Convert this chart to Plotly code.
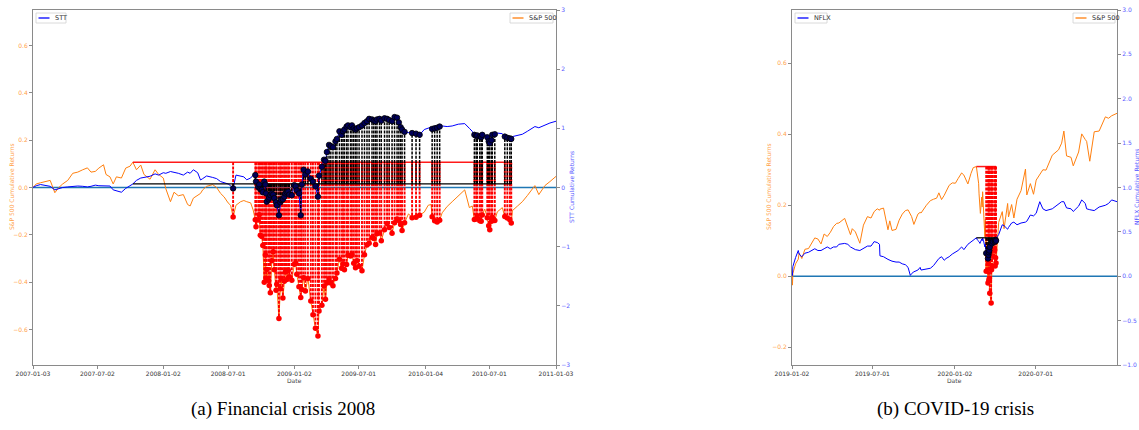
import numpy as np
import plotly.graph_objects as go

# ---------------- data: (a) Financial crisis 2008 ----------------
LEFT_DATES = [
    "2007-01-03", "2007-01-12", "2007-01-24", "2007-02-07", "2007-02-20", "2007-03-05", "2007-03-16", "2007-03-27", "2007-04-10", "2007-04-24",
    "2007-05-08", "2007-05-22", "2007-06-04", "2007-06-14", "2007-06-26", "2007-07-06", "2007-07-19", "2007-07-26", "2007-08-06", "2007-08-15",
    "2007-08-24", "2007-09-07", "2007-09-19", "2007-10-01", "2007-10-09", "2007-10-19", "2007-10-31", "2007-11-09", "2007-11-26", "2007-12-10",
    "2007-12-20", "2008-01-02", "2008-01-09", "2008-01-22", "2008-02-01", "2008-02-13", "2008-02-27", "2008-03-10", "2008-03-17", "2008-03-26",
    "2008-04-07", "2008-04-15", "2008-04-21", "2008-05-02", "2008-05-19", "2008-05-30", "2008-06-10", "2008-06-20", "2008-07-01", "2008-07-08",
    "2008-07-15", "2008-07-23", "2008-08-05", "2008-08-14", "2008-08-22", "2008-09-02", "2008-09-09",
    "2008-09-15", "2008-09-17", "2008-09-23", "2008-09-26", "2008-09-29", "2008-10-03", "2008-10-06", "2008-10-10", "2008-10-13", "2008-10-15",
    "2008-10-17", "2008-10-22", "2008-10-24", "2008-10-27", "2008-10-31", "2008-11-04", "2008-11-07", "2008-11-12", "2008-11-14", "2008-11-20",
    "2008-11-24", "2008-11-26", "2008-12-01", "2008-12-05", "2008-12-08", "2008-12-12", "2008-12-16", "2008-12-19", "2008-12-26", "2009-01-02",
    "2009-01-06", "2009-01-09", "2009-01-15", "2009-01-20", "2009-01-23", "2009-01-28", "2009-02-02", "2009-02-09", "2009-02-17", "2009-02-23",
    "2009-03-02", "2009-03-09", "2009-03-12", "2009-03-20", "2009-03-26", "2009-03-30", "2009-04-03", "2009-04-09", "2009-04-14", "2009-04-20",
    "2009-04-27", "2009-05-01", "2009-05-08", "2009-05-14", "2009-05-18", "2009-05-22", "2009-05-28", "2009-06-01", "2009-06-08", "2009-06-12",
    "2009-06-17", "2009-06-22", "2009-06-26", "2009-07-02", "2009-07-10", "2009-07-17", "2009-07-24", "2009-07-30", "2009-08-07", "2009-08-12",
    "2009-08-17", "2009-08-21", "2009-08-28", "2009-09-02", "2009-09-11", "2009-09-18", "2009-09-24", "2009-10-02", "2009-10-09", "2009-10-16",
    "2009-10-21", "2009-10-26", "2009-10-30", "2009-11-06", "2009-11-17", "2009-11-27", "2009-12-08", "2009-12-18", "2009-12-31", "2010-01-11",
    "2010-01-19", "2010-01-22", "2010-01-29", "2010-02-05", "2010-02-12", "2010-02-19", "2010-03-05", "2010-03-19", "2010-04-05", "2010-04-23",
    "2010-05-06", "2010-05-14", "2010-05-20", "2010-05-25", "2010-05-28", "2010-06-04", "2010-06-08", "2010-06-11", "2010-06-18", "2010-06-25",
    "2010-06-29", "2010-07-02", "2010-07-07", "2010-07-09", "2010-07-16", "2010-07-23", "2010-08-06", "2010-08-13", "2010-08-20", "2010-08-27",
    "2010-08-31", "2010-09-03", "2010-09-17", "2010-10-01", "2010-10-15", "2010-11-05", "2010-11-16", "2010-12-03", "2010-12-17", "2011-01-03",
]
LEFT_SP500 = [
    0.000, 0.015, 0.020, 0.025, 0.030, -0.022, 0.000, 0.015, 0.030, 0.060,
    0.065, 0.075, 0.083, 0.065, 0.068, 0.082, 0.096, 0.055, 0.045, 0.015,
    0.045, 0.040, 0.082, 0.090, 0.107, 0.075, 0.095, 0.055, 0.035, 0.075,
    0.055, 0.040, -0.005, -0.060, -0.020, -0.035, -0.030, -0.072, -0.078, -0.045,
    -0.035, -0.025, -0.010, 0.005, 0.012, 0.000, -0.025, -0.040, -0.065, -0.075,
    -0.125, -0.075, -0.060, -0.055, -0.060, -0.065, -0.095,
    -0.136, -0.166, -0.137, -0.115, -0.202, -0.207, -0.245, -0.400, -0.285, -0.383,
    -0.346, -0.393, -0.414, -0.445, -0.310, -0.272, -0.348, -0.434, -0.409, -0.554,
    -0.428, -0.385, -0.467, -0.396, -0.357, -0.389, -0.350, -0.377, -0.392, -0.324,
    -0.320, -0.367, -0.419, -0.465, -0.431, -0.381, -0.437, -0.384, -0.480, -0.538,
    -0.595, -0.627, -0.522, -0.498, -0.416, -0.472, -0.404, -0.387, -0.404, -0.415,
    -0.384, -0.361, -0.303, -0.341, -0.323, -0.348, -0.325, -0.286, -0.289, -0.282,
    -0.320, -0.339, -0.309, -0.333, -0.352, -0.284, -0.243, -0.236, -0.211, -0.216,
    -0.241, -0.195, -0.192, -0.225, -0.178, -0.152, -0.169, -0.193, -0.149, -0.133,
    -0.139, -0.156, -0.182, -0.149, -0.111, -0.128, -0.126, -0.117, -0.104, -0.075,
    -0.072, -0.124, -0.140, -0.146, -0.138, -0.107, -0.080, -0.060, -0.036, -0.010,
    -0.085, -0.078, -0.135, -0.133, -0.119, -0.141, -0.143, -0.116, -0.091, -0.128,
    -0.162, -0.179, -0.143, -0.126, -0.139, -0.103, -0.085, -0.123, -0.129, -0.136,
    -0.150, -0.098, -0.079, -0.060, -0.034, 0.008, -0.030, 0.008, 0.025, 0.047,
]
LEFT_STT = [
    0.00, 0.03, 0.05, 0.03, 0.02, -0.04, -0.015, 0.00, 0.01, 0.02,
    0.025, 0.02, 0.01, 0.02, 0.04, 0.03, 0.03, 0.025, 0.025, -0.04,
    -0.06, -0.08, -0.015, 0.03, 0.06, 0.12, 0.16, 0.17, 0.19, 0.23,
    0.21, 0.25, 0.24, 0.27, 0.26, 0.24, 0.21, 0.26, 0.24, 0.30,
    0.25, 0.127, 0.15, 0.195, 0.17, 0.15, 0.10, 0.08, 0.06, 0.03,
    -0.015, 0.21, 0.19, 0.18, 0.13, 0.16, 0.21,
    0.21, 0.10, 0.01, 0.05, -0.03, -0.04, -0.08, 0.10, 0.05, -0.10,
    -0.24, -0.20, -0.17, -0.13, -0.10, -0.12, -0.18, -0.25, -0.30, -0.47,
    -0.25, -0.21, -0.20, -0.155, -0.10, -0.08, -0.07, -0.12, -0.13, 0.04,
    0.02, -0.05, -0.10, -0.47, 0.05, 0.30, 0.22, 0.27, 0.15, 0.10,
    0.02, -0.155, 0.20, 0.35, 0.47, 0.45, 0.60, 0.72, 0.70, 0.68,
    0.78, 0.82, 0.95, 0.89, 0.95, 0.98, 1.03, 1.05, 1.02, 1.05,
    1.00, 0.98, 1.00, 1.02, 1.05, 1.09, 1.12, 1.16, 1.15, 1.13,
    1.12, 1.15, 1.16, 1.13, 1.17, 1.16, 1.14, 1.12, 1.19, 1.18,
    1.10, 1.02, 0.98, 0.94, 0.93, 0.92, 0.91, 0.89, 0.98, 1.00,
    1.02, 0.99, 1.00, 1.01, 1.03, 1.04, 1.03, 1.04, 1.07, 1.08,
    1.00, 0.95, 0.89, 0.87, 0.88, 0.86, 0.85, 0.89, 0.90, 0.85,
    0.78, 0.75, 0.80, 0.89, 0.90, 0.92, 0.91, 0.86, 0.84, 0.83,
    0.82, 0.86, 0.88, 0.90, 0.95, 1.03, 1.01, 1.06, 1.09, 1.12,
]

# ---------------- data: (b) COVID-19 crisis ----------------
RIGHT_DATES = [
    "2019-01-02", "2019-01-03", "2019-01-04", "2019-01-08", "2019-01-10", "2019-01-16", "2019-01-18", "2019-01-24", "2019-01-31", "2019-02-08",
    "2019-02-22", "2019-03-01", "2019-03-08", "2019-03-15", "2019-03-22", "2019-03-29", "2019-04-05", "2019-04-12", "2019-04-17", "2019-04-30",
    "2019-05-07", "2019-05-13", "2019-05-17", "2019-05-24", "2019-06-03", "2019-06-11", "2019-06-20", "2019-06-28", "2019-07-05", "2019-07-12",
    "2019-07-17", "2019-07-18", "2019-07-26", "2019-08-05", "2019-08-09", "2019-08-14", "2019-08-23", "2019-08-30", "2019-09-06", "2019-09-13",
    "2019-09-19", "2019-09-24", "2019-09-27", "2019-10-02", "2019-10-11", "2019-10-16", "2019-10-18", "2019-10-30", "2019-11-08", "2019-11-15",
    "2019-11-22", "2019-11-27", "2019-12-03", "2019-12-09", "2019-12-13", "2019-12-20", "2019-12-27", "2020-01-03", "2020-01-09", "2020-01-17",
    "2020-01-22", "2020-01-31", "2020-02-07", "2020-02-12", "2020-02-19", "2020-02-21", "2020-02-24", "2020-02-25", "2020-02-27", "2020-02-28",
    "2020-03-02", "2020-03-03", "2020-03-04", "2020-03-06", "2020-03-09", "2020-03-10", "2020-03-11", "2020-03-12", "2020-03-13", "2020-03-16",
    "2020-03-17", "2020-03-18", "2020-03-19", "2020-03-20", "2020-03-23", "2020-03-24", "2020-03-25", "2020-03-26", "2020-03-27", "2020-03-30",
    "2020-03-31", "2020-04-01", "2020-04-02", "2020-04-03", "2020-04-06", "2020-04-09", "2020-04-17", "2020-04-21", "2020-04-29", "2020-05-01",
    "2020-05-08", "2020-05-13", "2020-05-20", "2020-05-29", "2020-06-08", "2020-06-11", "2020-06-19", "2020-06-26", "2020-07-02", "2020-07-10",
    "2020-07-17", "2020-07-24", "2020-08-07", "2020-08-21", "2020-08-28", "2020-09-02", "2020-09-08", "2020-09-18", "2020-09-23", "2020-10-05",
    "2020-10-12", "2020-10-20", "2020-10-23", "2020-10-30", "2020-11-09", "2020-11-20", "2020-12-04", "2020-12-11", "2020-12-18", "2020-12-30",
]
RIGHT_SP500 = [
    0.000, -0.025, 0.008, 0.025, 0.035, 0.048, 0.065, 0.050, 0.076, 0.078,
    0.108, 0.105, 0.091, 0.119, 0.112, 0.124, 0.140, 0.149, 0.150, 0.163,
    0.135, 0.117, 0.134, 0.125, 0.093, 0.144, 0.168, 0.164, 0.182, 0.190,
    0.186, 0.189, 0.192, 0.131, 0.156, 0.129, 0.132, 0.158, 0.175, 0.185,
    0.187, 0.172, 0.168, 0.146, 0.175, 0.180, 0.178, 0.200, 0.213, 0.217,
    0.220, 0.235, 0.216, 0.228, 0.240, 0.256, 0.263, 0.262, 0.275, 0.291,
    0.285, 0.260, 0.290, 0.306, 0.309, 0.295, 0.262, 0.232, 0.184, 0.177,
    0.223, 0.195, 0.238, 0.187, 0.111, 0.160, 0.111, 0.014, 0.105, -0.019,
    0.041, -0.011, -0.006, -0.048, -0.075, 0.018, 0.029, 0.091, 0.056, 0.091,
    0.074, 0.029, 0.052, 0.037, 0.106, 0.152, 0.182, 0.134, 0.205, 0.167,
    0.202, 0.164, 0.217, 0.241, 0.302, 0.229, 0.261, 0.231, 0.271, 0.285,
    0.300, 0.299, 0.341, 0.356, 0.375, 0.409, 0.339, 0.335, 0.311, 0.350,
    0.401, 0.385, 0.380, 0.324, 0.407, 0.409, 0.449, 0.445, 0.452, 0.459,
]
RIGHT_NFLX = [
    0.00, 0.01, 0.11, 0.20, 0.21, 0.29, 0.25, 0.22, 0.26, 0.27,
    0.31, 0.29, 0.29, 0.31, 0.33, 0.31, 0.33, 0.33, 0.36, 0.37,
    0.36, 0.33, 0.32, 0.30, 0.29, 0.31, 0.34, 0.34, 0.39, 0.38,
    0.36, 0.23, 0.22, 0.19, 0.18, 0.17, 0.16, 0.16, 0.14, 0.13,
    0.10, 0.01, 0.03, 0.05, 0.07, 0.10, 0.07, 0.08, 0.09, 0.12,
    0.17, 0.20, 0.22, 0.18, 0.20, 0.22, 0.25, 0.27, 0.29, 0.33,
    0.30, 0.36, 0.39, 0.41, 0.433, 0.41, 0.40, 0.39, 0.37, 0.39,
    0.42, 0.40, 0.43, 0.40, 0.33, 0.36, 0.33, 0.26, 0.31, 0.20,
    0.24, 0.27, 0.29, 0.33, 0.39, 0.38, 0.37, 0.40, 0.39, 0.41,
    0.40, 0.39, 0.41, 0.40, 0.45, 0.47, 0.58, 0.57, 0.53, 0.55,
    0.60, 0.61, 0.58, 0.60, 0.61, 0.62, 0.69, 0.68, 0.71, 0.84,
    0.76, 0.74, 0.76, 0.81, 0.84, 0.84, 0.77, 0.76, 0.73, 0.79,
    0.86, 0.82, 0.76, 0.75, 0.74, 0.78, 0.80, 0.82, 0.86, 0.84,
]

# crisis days: S&P 500 cumulative return this far below its running peak
DRAWDOWN_THRESHOLD = 0.22

LEFT_XTICKS = ["2007-01-03", "2007-07-02", "2008-01-02", "2008-07-01", "2009-01-02",
               "2009-07-01", "2010-01-04", "2010-07-01", "2011-01-03"]
RIGHT_XTICKS = ["2019-01-02", "2019-07-01", "2020-01-02", "2020-07-01"]
LEFT_SP_TICKS = [-0.6, -0.4, -0.2, 0.0, 0.2, 0.4, 0.6]
LEFT_STT_TICKS = [-3, -2, -1, 0, 1, 2, 3]
RIGHT_SP_TICKS = [-0.2, 0.0, 0.2, 0.4, 0.6]
RIGHT_NFLX_TICKS = [-1.0, -0.5, 0.0, 0.5, 1.0, 1.5, 2.0, 2.5, 3.0]

CAPTIONS = ["(a) Financial crisis 2008", "(b) COVID-19 crisis"]

# ---------------- style ----------------
W, H = 1139, 430
TOP, BOTTOM = 10, 365          # plot area, pixels
ORANGE = "#ff7f0e"
ORANGE_TXT = "#ff9f4a"
BLUE = "#0000ff"
BLUE_TXT = "#5a5aff"
SPINE = "#8a8a8a"
FONT = "DejaVu Sans"
SMALL = 6


def px(x):
    return x / W


def py(y):
    return (BOTTOM - y) / (BOTTOM - TOP)


def crisis_events(sp, thr):
    sp = np.asarray(sp, float)
    run_max = np.maximum.accumulate(sp)
    idx = np.flatnonzero((run_max - sp) >= thr - 1e-9)
    peak = int(np.flatnonzero(sp == run_max[idx[0]])[0])
    return idx, peak


fig = go.Figure()


def add_panel(dates, sp, stock, xa, ya_sp, ya_st):
    idx, pk = crisis_events(sp, DRAWDOWN_THRESHOLD)
    ref_sp, ref_st = sp[pk], stock[pk]
    ev_d = [dates[i] for i in idx]
    common = dict(xaxis=xa, hoverinfo="skip", showlegend=False)

    fig.add_trace(go.Scatter(x=dates, y=sp, mode="lines", yaxis=ya_sp,
                             line=dict(color=ORANGE, width=1), **common))
    fig.add_trace(go.Scatter(x=[dates[pk], dates[idx[-1]]], y=[ref_sp, ref_sp], mode="lines",
                             yaxis=ya_sp, line=dict(color="#ff1a1a", width=1.5), **common))
    vx, vy = [], []
    for i in idx:
        vx += [dates[i], dates[i], None]
        vy += [ref_sp, sp[i], None]
    fig.add_trace(go.Scatter(x=vx, y=vy, mode="lines", yaxis=ya_sp,
                             line=dict(color="red", width=1.9, dash="3px,1.2px"), **common))
    fig.add_trace(go.Scatter(x=ev_d, y=[sp[i] for i in idx], mode="markers", yaxis=ya_sp,
                             marker=dict(color="red", size=5.5, line=dict(width=0)), **common))

    fig.add_trace(go.Scatter(x=dates, y=stock, mode="lines", yaxis=ya_st,
                             line=dict(color=BLUE, width=1), **common))
    fig.add_trace(go.Scatter(x=[dates[pk], dates[idx[-1]]], y=[ref_st, ref_st], mode="lines",
                             yaxis=ya_st, line=dict(color="black", width=1.3), **common))
    vx, vy = [], []
    for i in idx:
        vx += [dates[i], dates[i], None]
        vy += [ref_st, stock[i], None]
    fig.add_trace(go.Scatter(x=vx, y=vy, mode="lines", yaxis=ya_st,
                             line=dict(color="black", width=1.5, dash="3px,1.2px"), **common))
    fig.add_trace(go.Scatter(x=ev_d, y=[stock[i] for i in idx], mode="markers", yaxis=ya_st,
                             marker=dict(color="#00005a", size=5.5, line=dict(color="black", width=0.8)),
                             **common))

    # zero line
    fig.add_shape(type="line", xref=f"{xa} domain", x0=0, x1=1, yref=ya_sp, y0=0, y1=0,
                  line=dict(color="#1f77b4", width=1.5), layer="below")


add_panel(LEFT_DATES, LEFT_SP500, LEFT_STT, "x", "y", "y2")
add_panel(RIGHT_DATES, RIGHT_SP500, RIGHT_NFLX, "x2", "y3", "y4")

axis_common = dict(showgrid=False, zeroline=False, showline=True, linecolor=SPINE, linewidth=1,
                   ticks="outside", ticklen=3, tickwidth=1, tickcolor=SPINE, automargin=False)
xfont = dict(family=FONT, size=SMALL, color="#333333")
ofont = dict(family=FONT, size=SMALL, color=ORANGE_TXT)
bfont = dict(family=FONT, size=SMALL, color=BLUE_TXT)

fig.update_layout(
    width=W, height=H,
    margin=dict(l=0, r=0, t=TOP, b=H - BOTTOM, autoexpand=False),
    paper_bgcolor="white", plot_bgcolor="white", showlegend=False,
    xaxis=dict(domain=[px(33), px(556)], anchor="y", type="date",
               range=[LEFT_DATES[0], LEFT_DATES[-1]], tickvals=LEFT_XTICKS, ticktext=LEFT_XTICKS,
               tickfont=xfont, mirror=True, **axis_common),
    yaxis=dict(anchor="x", range=[-0.75, 0.75], tickvals=LEFT_SP_TICKS, tickformat=".1f",
               tickfont=ofont, **axis_common),
    yaxis2=dict(anchor="x", overlaying="y", side="right", range=[-3, 3], tickvals=LEFT_STT_TICKS,
                tickformat="d", tickfont=bfont, **axis_common),
    xaxis2=dict(domain=[px(792), px(1117)], anchor="y3", type="date",
                range=[RIGHT_DATES[0], RIGHT_DATES[-1]], tickvals=RIGHT_XTICKS, ticktext=RIGHT_XTICKS,
                tickfont=xfont, mirror=True, **axis_common),
    yaxis3=dict(anchor="x2", range=[-0.25, 0.75], tickvals=RIGHT_SP_TICKS, tickformat=".1f",
                tickfont=ofont, **axis_common),
    yaxis4=dict(anchor="x2", overlaying="y3", side="right", range=[-1, 3], tickvals=RIGHT_NFLX_TICKS,
                tickformat=".1f", tickfont=bfont, **axis_common),
)

ann = []


def label(text, x, y, font, angle=0, xanchor="center"):
    ann.append(dict(text=text, x=px(x), y=py(y), xref="paper", yref="paper", showarrow=False,
                    font=font, textangle=angle, xanchor=xanchor, yanchor="middle"))


# axis titles
label("S&P 500 Cumulative Returns", 11, 187, ofont, -90)
label("STT Cumulative Returns", 571, 187, bfont, -90)
label("Date", 294.5, 380, dict(family=FONT, size=SMALL, color="#444444"))
label("S&P 500 Cumulative Returns", 768, 187, ofont, -90)
label("NFLX Cumulative Returns", 1136, 187, bfont, -90)
label("Date", 954.5, 380, dict(family=FONT, size=SMALL, color="#444444"))

# captions
cap_font = dict(family="Liberation Serif", size=19, color="black")
label(CAPTIONS[0], 283, 409, cap_font)
label(CAPTIONS[1], 955, 409, cap_font)

# manual legends (box, line sample, text)
legends = [("STT", BLUE, 36, 66), ("S&P 500", ORANGE, 510, 553),
           ("NFLX", BLUE, 795, 827), ("S&P 500", ORANGE, 1073, 1115)]
for text, color, x0, x1 in legends:
    fig.add_shape(type="rect", xref="paper", yref="paper", x0=px(x0), x1=px(x1), y0=py(23), y1=py(13),
                  line=dict(color="#d0d0d0", width=0.8), fillcolor="white", layer="above")
    fig.add_shape(type="line", xref="paper", yref="paper", x0=px(x0 + 2.5), x1=px(x0 + 13.5),
                  y0=py(18), y1=py(18), line=dict(color=color, width=1.3), layer="above")
    label(text, x0 + 16.5, 18, dict(family=FONT, size=6.5, color="#333333"), xanchor="left")

fig.update_layout(annotations=ann)
# the page body has a default 8px margin; remove it so the figure fills the window exactly
fig.write_html("out.html", config={"displayModeBar": False},
               post_script="document.body.style.margin='0px';document.body.style.overflow='hidden';")
